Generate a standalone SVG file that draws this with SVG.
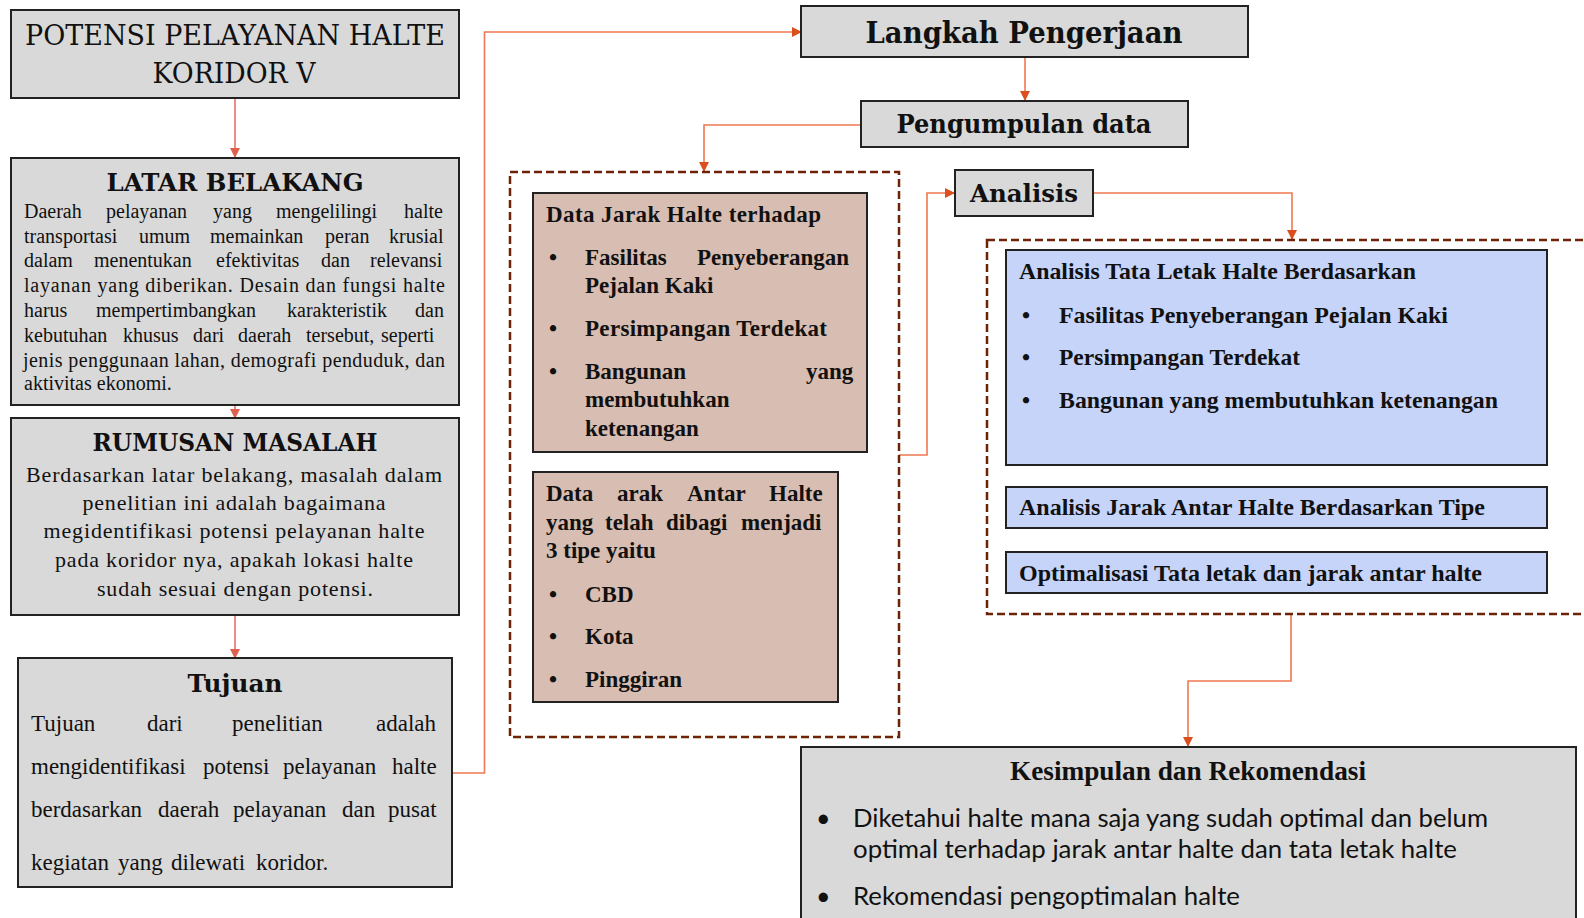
<svg xmlns="http://www.w3.org/2000/svg" width="1584" height="918" viewBox="0 0 1584 918">
<defs>
<style>
.box{stroke:#222;stroke-width:2}
.gray{fill:#D9D9D9}
.tan{fill:#D8BDB2}
.blue{fill:#C6D4FA}
.dash{fill:none;stroke:#6E2207;stroke-width:2.5;stroke-dasharray:8 4}
.slab{font-family:"DejaVu Serif",serif;font-weight:bold;fill:#111}
.slabr{font-family:"DejaVu Serif",serif;fill:#111}
.tr{font-family:"Liberation Serif",serif;fill:#111}
.tb{font-family:"Liberation Serif",serif;font-weight:bold;fill:#111}
.sans{font-family:Lato,"Liberation Sans",sans-serif;fill:#111}
.c1{fill:none;stroke:#E4736A;stroke-width:1.6}
.c2{fill:none;stroke:#EE7852;stroke-width:1.6}
</style>
<marker id="a1" markerWidth="10" markerHeight="10" refX="9" refY="5" orient="auto" markerUnits="userSpaceOnUse"><path d="M0,0 L10,5 L0,10 z" fill="#E0604F"/></marker>
<marker id="a2" markerWidth="10" markerHeight="10" refX="9" refY="5" orient="auto" markerUnits="userSpaceOnUse"><path d="M0,0 L10,5 L0,10 z" fill="#D9501E"/></marker>
</defs>

<g id="connectors">
<path class="c1" d="M235,98 V157" marker-end="url(#a1)"/>
<path class="c1" d="M235,405 V418" marker-end="url(#a1)"/>
<path class="c1" d="M235,615 V658" marker-end="url(#a1)"/>
<path class="c2" d="M452,773 H484.5 V32 H801" marker-end="url(#a2)"/>
<path class="c2" d="M1025,57 V100" marker-end="url(#a2)"/>
<path class="c2" d="M861,125 H704 V171" marker-end="url(#a2)"/>
<path class="c2" d="M899,455 H927 V193 H954" marker-end="url(#a2)"/>
<path class="c2" d="M1093,193 H1292 V239" marker-end="url(#a2)"/>
<path class="c2" d="M1291,615 V681 H1188 V746" marker-end="url(#a2)"/>
</g>

<g id="potensi">
<rect class="box gray" x="11" y="10" width="448" height="88"/>
<text class="slabr" x="235" y="45" font-size="28" text-anchor="middle" textLength="420" lengthAdjust="spacingAndGlyphs">POTENSI PELAYANAN HALTE</text>
<text class="slabr" x="234" y="83" font-size="28" text-anchor="middle" textLength="163" lengthAdjust="spacingAndGlyphs">KORIDOR V</text>
</g>

<g id="latar">
<rect class="box gray" x="11" y="158" width="448" height="247"/>
<text class="slab" x="235" y="191" font-size="24" text-anchor="middle" textLength="257" lengthAdjust="spacingAndGlyphs">LATAR BELAKANG</text>
<g class="tr" font-size="20">
<text y="218"><tspan x="24">Daerah</tspan><tspan x="106">pelayanan</tspan><tspan x="213">yang</tspan><tspan x="276">mengelilingi</tspan><tspan x="404">halte</tspan></text>
<text y="243"><tspan x="24">transportasi</tspan><tspan x="139">umum</tspan><tspan x="210">memainkan</tspan><tspan x="325">peran</tspan><tspan x="389">krusial</tspan></text>
<text y="267"><tspan x="24">dalam</tspan><tspan x="94">menentukan</tspan><tspan x="216">efektivitas</tspan><tspan x="321">dan</tspan><tspan x="370">relevansi</tspan></text>
<text x="24" y="292" textLength="421" lengthAdjust="spacing">layanan yang diberikan. Desain dan fungsi halte</text>
<text y="317"><tspan x="24">harus</tspan><tspan x="96">mempertimbangkan</tspan><tspan x="287">karakteristik</tspan><tspan x="415">dan</tspan></text>
<text y="342"><tspan x="24">kebutuhan</tspan><tspan x="123">khusus</tspan><tspan x="193">dari</tspan><tspan x="238">daerah</tspan><tspan x="306">tersebut,</tspan><tspan x="381">seperti</tspan></text>
<text x="23" y="367" textLength="422" lengthAdjust="spacing">jenis penggunaan lahan, demografi penduduk, dan</text>
<text x="24" y="390">aktivitas ekonomi.</text>
</g>
</g>

<g id="rumusan">
<rect class="box gray" x="11" y="418" width="448" height="197"/>
<text class="slab" x="235" y="451" font-size="24" text-anchor="middle" textLength="285" lengthAdjust="spacingAndGlyphs">RUMUSAN MASALAH</text>
<g class="tr" font-size="22" text-anchor="middle">
<text x="234" y="482" textLength="416" lengthAdjust="spacing">Berdasarkan latar belakang, masalah dalam</text>
<text x="234" y="510" textLength="303" lengthAdjust="spacing">penelitian ini adalah bagaimana</text>
<text x="234" y="538" textLength="381" lengthAdjust="spacing">megidentifikasi potensi pelayanan halte</text>
<text x="234" y="567" textLength="358" lengthAdjust="spacing">pada koridor nya, apakah lokasi halte</text>
<text x="235" y="596" textLength="276" lengthAdjust="spacing">sudah sesuai dengan potensi.</text>
</g>
</g>

<g id="tujuan">
<rect class="box gray" x="18" y="658" width="434" height="229"/>
<text class="slab" x="235" y="692" font-size="25" text-anchor="middle" textLength="95" lengthAdjust="spacingAndGlyphs">Tujuan</text>
<g class="tr" font-size="23">
<text y="731"><tspan x="31">Tujuan</tspan><tspan x="147">dari</tspan><tspan x="232">penelitian</tspan><tspan x="376">adalah</tspan></text>
<text y="774"><tspan x="31">mengidentifikasi</tspan><tspan x="203">potensi</tspan><tspan x="283">pelayanan</tspan><tspan x="392">halte</tspan></text>
<text y="817"><tspan x="31">berdasarkan</tspan><tspan x="158">daerah</tspan><tspan x="233">pelayanan</tspan><tspan x="342">dan</tspan><tspan x="388">pusat</tspan></text>
<text y="870"><tspan x="31">kegiatan</tspan><tspan x="118">yang</tspan><tspan x="171">dilewati</tspan><tspan x="256">koridor.</tspan></text>
</g>
</g>

<g id="langkah">
<rect class="box gray" x="801" y="6" width="447" height="51"/>
<text class="slab" x="1024" y="43" font-size="29" text-anchor="middle" textLength="317" lengthAdjust="spacingAndGlyphs">Langkah Pengerjaan</text>
</g>

<g id="pengumpulan">
<rect class="box gray" x="861" y="101" width="327" height="46"/>
<text class="slab" x="1024" y="133" font-size="26" text-anchor="middle" textLength="255" lengthAdjust="spacingAndGlyphs">Pengumpulan data</text>
</g>

<g id="data-group">
<rect class="dash" x="510" y="172" width="389" height="565"/>
<g id="data-jarak">
<rect class="box tan" x="533" y="193" width="334" height="259"/>
<g class="tb" font-size="23">
<text x="546" y="222" textLength="275" lengthAdjust="spacing">Data Jarak Halte terhadap</text>
<text x="549" y="265">•</text><text y="265"><tspan x="585">Fasilitas</tspan><tspan x="697">Penyeberangan</tspan></text>
<text x="585" y="293">Pejalan Kaki</text>
<text x="549" y="336">•</text><text x="585" y="336" textLength="242" lengthAdjust="spacing">Persimpangan Terdekat</text>
<text x="549" y="379">•</text><text y="379"><tspan x="585">Bangunan</tspan><tspan x="806">yang</tspan></text>
<text x="585" y="407">membutuhkan</text>
<text x="585" y="436">ketenangan</text>
</g>
</g>
<g id="data-antar">
<rect class="box tan" x="533" y="472" width="305" height="230"/>
<g class="tb" font-size="23">
<text y="501"><tspan x="546">Data</tspan><tspan x="617">arak</tspan><tspan x="687">Antar</tspan><tspan x="769">Halte</tspan></text>
<text y="530"><tspan x="546">yang</tspan><tspan x="605">telah</tspan><tspan x="666">dibagi</tspan><tspan x="741">menjadi</tspan></text>
<text x="546" y="558">3 tipe yaitu</text>
<text x="549" y="602">•</text><text x="585" y="602">CBD</text>
<text x="549" y="644">•</text><text x="585" y="644">Kota</text>
<text x="549" y="687">•</text><text x="585" y="687">Pinggiran</text>
</g>
</g>
</g>

<g id="analisis">
<rect class="box gray" x="955" y="170" width="138" height="46"/>
<text class="slab" x="1024" y="202" font-size="25" text-anchor="middle" textLength="108" lengthAdjust="spacingAndGlyphs">Analisis</text>
</g>

<g id="analisis-group">
<rect class="dash" x="987" y="240" width="620" height="374"/>
<g id="tata-letak">
<rect class="box blue" x="1006" y="250" width="541" height="215"/>
<g class="tb" font-size="23">
<text x="1019" y="279" textLength="397" lengthAdjust="spacingAndGlyphs">Analisis Tata Letak Halte Berdasarkan</text>
<text x="1022" y="323">•</text><text x="1059" y="323" textLength="389" lengthAdjust="spacingAndGlyphs">Fasilitas Penyeberangan Pejalan Kaki</text>
<text x="1022" y="365">•</text><text x="1059" y="365" textLength="241" lengthAdjust="spacingAndGlyphs">Persimpangan Terdekat</text>
<text x="1022" y="408">•</text><text x="1059" y="408" textLength="439" lengthAdjust="spacingAndGlyphs">Bangunan yang membutuhkan ketenangan</text>
</g>
</g>
<g id="jarak-antar">
<rect class="box blue" x="1006" y="487" width="541" height="41"/>
<text class="tb" font-size="23" x="1019" y="515" textLength="466" lengthAdjust="spacingAndGlyphs">Analisis Jarak Antar Halte Berdasarkan Tipe</text>
</g>
<g id="optimalisasi">
<rect class="box blue" x="1006" y="552" width="541" height="41"/>
<text class="tb" font-size="23" x="1019" y="581" textLength="463" lengthAdjust="spacingAndGlyphs">Optimalisasi Tata letak dan jarak antar halte</text>
</g>
</g>

<g id="kesimpulan">
<rect class="box gray" x="801" y="747" width="775" height="190"/>
<text class="tb" x="1188" y="780" font-size="27" text-anchor="middle" textLength="356" lengthAdjust="spacingAndGlyphs">Kesimpulan dan Rekomendasi</text>
<g class="sans" font-size="25">
<text x="816" y="827">•</text><text x="853" y="827" textLength="635" lengthAdjust="spacingAndGlyphs">Diketahui halte mana saja yang sudah optimal dan belum</text>
<text x="853" y="858" textLength="604" lengthAdjust="spacingAndGlyphs">optimal terhadap jarak antar halte dan tata letak halte</text>
<text x="816" y="905">•</text><text x="853" y="905" textLength="387" lengthAdjust="spacingAndGlyphs">Rekomendasi pengoptimalan halte</text>
</g>
</g>
</svg>
